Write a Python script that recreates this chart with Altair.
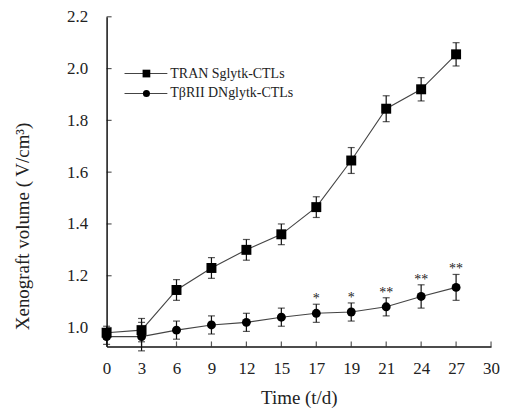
import altair as alt
import pandas as pd

# ---- data ----
time_labels = ["0", "3", "6", "9", "12", "15", "17", "19", "21", "24", "27", "30"]
days = ["0", "3", "6", "9", "12", "15", "17", "19", "21", "24", "27"]
tran_mean = [0.98, 0.99, 1.145, 1.23, 1.30, 1.36, 1.465, 1.645, 1.845, 1.92, 2.055]
tran_err = [0.025, 0.045, 0.04, 0.04, 0.04, 0.04, 0.04, 0.05, 0.05, 0.045, 0.045]
tbrii_mean = [0.965, 0.965, 0.99, 1.01, 1.02, 1.04, 1.055, 1.06, 1.08, 1.12, 1.155]
tbrii_err = [0.03, 0.055, 0.035, 0.035, 0.035, 0.035, 0.035, 0.035, 0.035, 0.045, 0.05]
signif = ["", "", "", "", "", "", "*", "*", "**", "**", "**"]
y_ticks = [1.0, 1.2, 1.4, 1.6, 1.8, 2.0, 2.2]
series_names = ["TRAN Sglytk-CTLs", "T\u03b2RII DNglytk-CTLs"]

rows = []
for name, means, errs, shape in [(series_names[0], tran_mean, tran_err, "square"),
                                 (series_names[1], tbrii_mean, tbrii_err, "circle")]:
    for d, m, e in zip(days, means, errs):
        rows.append({"series": name, "day": d, "mean": m, "lo": m - e, "hi": m + e, "shape": shape})
df = pd.DataFrame(rows)
df_sig = pd.DataFrame({"day": days, "hi": [m + e for m, e in zip(tbrii_mean, tbrii_err)], "sig": signif})
df_sig = df_sig[df_sig["sig"] != ""]
df_yt = pd.DataFrame({"v": y_ticks})
df_xt = pd.DataFrame({"day": time_labels})

FONT = "Liberation Serif"
TXT = "#222222"
W, H = 386, 331
YMIN, YMAX = 0.927, 2.2

xscale = alt.Scale(type="point", domain=time_labels, padding=0)
yscale = alt.Scale(domain=[YMIN, YMAX], nice=False, zero=False)

X = alt.X("day:N", scale=xscale, sort=time_labels,
          axis=alt.Axis(title="Time (t/d)", labelAngle=0, ticks=False, tickSize=0,
                        labelPadding=22, labelBaseline="middle", labelFontSize=17,
                        labelFont=FONT, titleFont=FONT, labelColor=TXT, titleColor=TXT,
                        titleFontWeight="normal",
                        titleFontSize=19, titleY=51, titleBaseline="middle",
                        domainColor="#111111", domainWidth=1.5, grid=False))
Y = alt.Y("mean:Q", scale=yscale,
          axis=alt.Axis(title="Xenograft volume ( V/cm\u00b3)", values=y_ticks, format=".1f",
                        ticks=False, tickSize=0, labelPadding=19, labelFontSize=17,
                        labelFont=FONT, titleFont=FONT, labelColor=TXT, titleColor=TXT,
                        titleFontWeight="normal",
                        titleFontSize=19, titleX=-84, titleY=210, titleBaseline="middle",
                        domainColor="#111111", domainWidth=1.5, grid=False))

XP = alt.X("day:N", scale=xscale, sort=time_labels)
base = alt.Chart(df)

lines = base.mark_line(color="#444444", strokeWidth=1.1).encode(x=X, y=Y, detail="series:N")
bars = base.mark_rule(color="#111111", strokeWidth=1.2).encode(
    x=XP, y=alt.Y("lo:Q", scale=yscale), y2="hi:Q")
cap_hi = base.mark_tick(color="#111111", size=7, thickness=1.2, orient="horizontal").encode(
    x=XP, y=alt.Y("hi:Q", scale=yscale))
cap_lo = base.mark_tick(color="#111111", size=7, thickness=1.2, orient="horizontal").encode(
    x=XP, y=alt.Y("lo:Q", scale=yscale))
pts_sq = alt.Chart(df[df["shape"] == "square"]).mark_point(
    shape="square", filled=True, color="#000000", size=100, opacity=1).encode(
    x=XP, y=alt.Y("mean:Q", scale=yscale))
pts_ci = alt.Chart(df[df["shape"] == "circle"]).mark_point(
    shape="circle", filled=True, color="#000000", size=80, opacity=1).encode(
    x=XP, y=alt.Y("mean:Q", scale=yscale))
stars = alt.Chart(df_sig).mark_text(font=FONT, fontSize=14, baseline="alphabetic", dy=-1).encode(
    x=XP, y=alt.Y("hi:Q", scale=yscale), text="sig:N", color=alt.value(TXT))

ytick_marks = alt.Chart(df_yt).mark_tick(color="#111111", orient="horizontal", size=5, thickness=1.2).encode(
    y=alt.Y("v:Q", scale=yscale), x=alt.value(2.5))
xtick_marks = alt.Chart(df_xt).mark_tick(color="#111111", orient="vertical", size=5, thickness=1.2).encode(
    x=XP, y=alt.value(H - 2.5))

# legend (drawn manually: line + marker + label)
df_leg = pd.DataFrame({"series": series_names, "shape": ["square", "circle"], "row": [0, 1]})
leg_layers = []
for _, r in df_leg.iterrows():
    ly = 57 + 20 * r["row"]
    one = alt.Chart(df_leg[df_leg["row"] == r["row"]])
    leg_layers.append(one.mark_rule(color="#444444", strokeWidth=1.1).encode(
        x=alt.value(18), x2=alt.value(61), y=alt.value(ly)))
    leg_layers.append(one.mark_point(shape=r["shape"], filled=True, color="#000000",
                                     size=60 if r["shape"] == "square" else 50, opacity=1).encode(
        x=alt.value(40), y=alt.value(ly)))
    leg_layers.append(one.mark_text(font=FONT, fontSize=14, align="left", baseline="middle").encode(
        x=alt.value(64), y=alt.value(ly), text="series:N", color=alt.value(TXT)))

chart = alt.layer(lines, bars, cap_hi, cap_lo, pts_ci, pts_sq, stars,
                  ytick_marks, xtick_marks, *leg_layers).properties(
    width=W, height=H,
    autosize=alt.AutoSizeParams(type="none"),
    padding={"left": 99, "top": 8, "right": 10, "bottom": 62},
).configure(background="white").configure_view(stroke=None)

chart.save("out.html", embed_options={"renderer": "svg", "actions": False})
